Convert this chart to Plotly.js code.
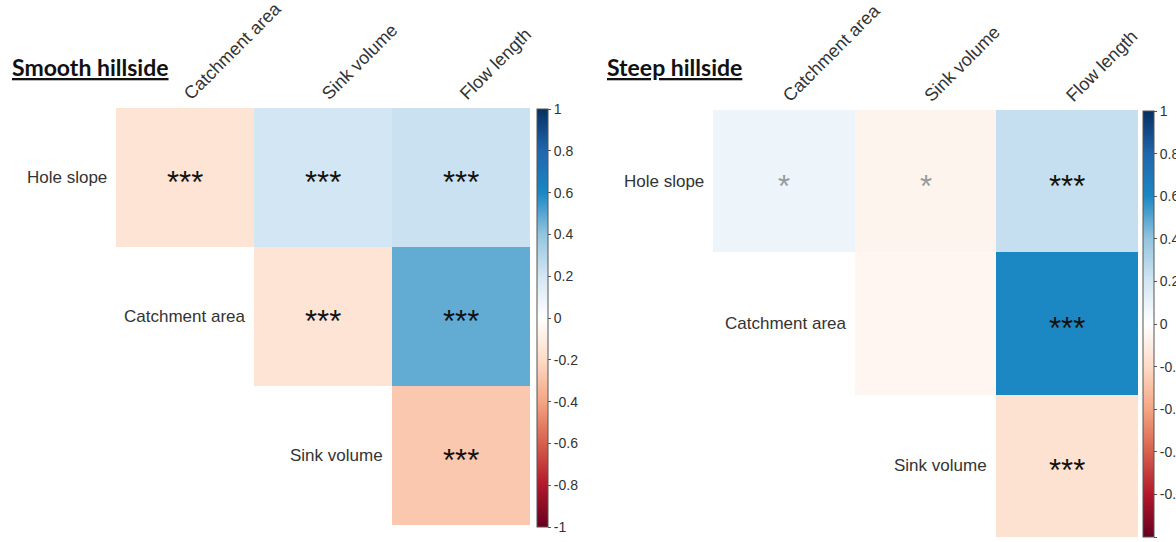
<!DOCTYPE html>
<html>
<head>
<meta charset="utf-8">
<script src="https://cdn.plot.ly/plotly-3.0.1.min.js"></script>
<style>html,body{margin:0;padding:0;background:#fff;}#chart{width:1176px;height:542px;}</style>
</head>
<body>
<div id="chart"></div>
<script>
// ---- data ----
var rowLabels = ["Hole slope", "Catchment area", "Sink volume"];
var colLabels = ["Catchment area", "Sink volume", "Flow length"];
var panelTitles = ["Smooth hillside", "Steep hillside"];
var smoothCorr = [[-0.15, 0.20, 0.23], [null, -0.15, 0.48], [null, null, -0.27]];
var steepCorr  = [[0.08, -0.06, 0.24], [null, -0.05, 0.60], [null, null, -0.16]];
var smoothSig = [["***", "***", "***"], ["", "***", "***"], ["", "", "***"]];
var steepSig  = [["*", "*", "***"], ["", "", "***"], ["", "", "***"]];
var cbTicks = [1, 0.8, 0.6, 0.4, 0.2, 0, -0.2, -0.4, -0.6, -0.8, -1];

var W = 1176, H = 542;
var colorscale = [[0, '#67001F'], [0.1, '#B2182B'], [0.2, '#D6604D'], [0.3, '#F4A582'], [0.4, '#FDDBC7'],
  [0.5, '#FFFFFF'], [0.6, '#D3E6F4'], [0.7, '#92C5DE'], [0.8, '#1B87C3'], [0.9, '#2166AC'], [1, '#053061']];

var idx = [0, 1, 2];
var panels = [
  {corr: smoothCorr, sig: smoothSig, x0: 116, x1: 530, y0: 108, y1: 525, cbx: 537, cbt: 109, cbb: 527, tx: 10, ty: 67},
  {corr: steepCorr, sig: steepSig, x0: 713, x1: 1138, y0: 110, y1: 537, cbx: 1143, cbt: 111, cbb: 537, tx: 605, ty: 67}
];

var traces = [], annotations = [], layout = {
  width: W, height: H, margin: {l: 0, r: 0, t: 0, b: 0, autoexpand: false},
  paper_bgcolor: '#fff', plot_bgcolor: '#fff', showlegend: false,
  font: {family: 'Liberation Sans, Arial, sans-serif', color: '#333'}
};

panels.forEach(function (p, k) {
  var xa = k === 0 ? 'x' : 'x2', ya = k === 0 ? 'y' : 'y2';
  traces.push({
    type: 'heatmap', x: idx, y: idx, z: p.corr, xaxis: xa, yaxis: ya,
    zmin: -1, zmax: 1, colorscale: colorscale, hoverinfo: 'skip',
    showscale: true,
    colorbar: {
      x: p.cbx / W, xanchor: 'left', xref: 'paper', xpad: 0, ypad: 0,
      y: 1 - p.cbb / H, yanchor: 'bottom', len: (p.cbb - p.cbt) / H, lenmode: 'fraction',
      thickness: 11, outlinecolor: '#555', outlinewidth: 1,
      ticks: 'outside', ticklen: 3, tickcolor: '#555', tickvals: cbTicks,
      ticktext: cbTicks.map(String),
      tickfont: {size: 14, color: '#333', family: 'Liberation Sans, Arial, sans-serif'}
    }
  });
  var axKey = k === 0 ? 'xaxis' : 'xaxis2', ayKey = k === 0 ? 'yaxis' : 'yaxis2';
  layout[axKey] = {
    domain: [p.x0 / W, p.x1 / W], range: [-0.5, 2.5], side: 'top',
    tickvals: idx, ticktext: colLabels, tickangle: -45, ticks: '',
    tickfont: {size: 18, color: '#333'}, showgrid: false, zeroline: false, showline: false,
    anchor: ya, fixedrange: true
  };
  layout[ayKey] = {
    domain: [1 - p.y1 / H, 1 - p.y0 / H], range: [2.5, -0.5], visible: false,
    showticklabels: false, ticks: '', showgrid: false, zeroline: false, showline: false,
    anchor: xa, fixedrange: true
  };
  // row labels beside diagonal cells
  rowLabels.forEach(function (lab, r) {
    annotations.push({
      xref: xa, yref: ya, x: r - 0.5, y: r, text: lab, showarrow: false,
      xanchor: 'right', yanchor: 'middle', xshift: -7,
      font: {size: 17, color: '#333'}
    });
  });
  // significance stars
  p.sig.forEach(function (row, r) {
    row.forEach(function (s, c) {
      if (!s) return;
      annotations.push({
        xref: xa, yref: ya, x: c, y: r, text: s, showarrow: false,
        xanchor: 'center', yanchor: 'middle', yshift: -5,
        font: {size: 31, color: s === '*' ? '#999' : '#111', family: 'Liberation Sans, Arial, sans-serif'}
      });
    });
  });
  // panel title
  annotations.push({
    xref: 'paper', yref: 'paper', x: p.tx / W, y: 1 - p.ty / H,
    text: '<b><u>' + panelTitles[k] + '</u></b>', showarrow: false,
    xanchor: 'left', yanchor: 'middle',
    font: {size: 23, color: '#111', family: 'Lato, Noto Sans, sans-serif'}
  });
});
layout.annotations = annotations;

Plotly.newPlot('chart', traces, layout, {displayModeBar: false, staticPlot: true});
</script>
</body>
</html>
